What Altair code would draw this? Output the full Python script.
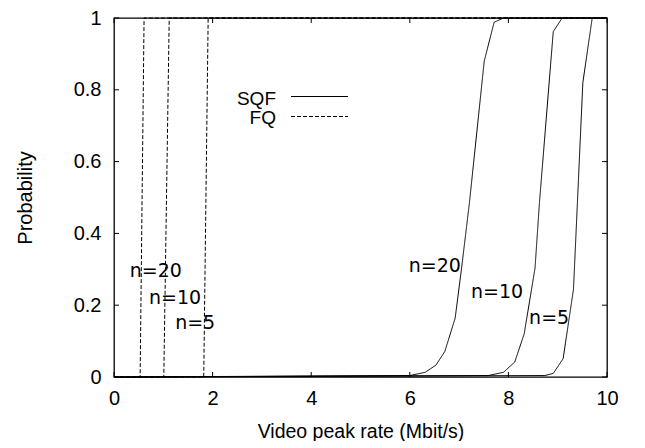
import altair as alt
import pandas as pd

# SQF curves (x = video peak rate, y = probability)
sqf20_x = [0.0, 6.00, 6.31, 6.53, 6.71, 6.92, 7.05, 7.21, 7.51, 7.71, 7.90, 10.0]
sqf20_y = [0.0, 0.004, 0.013, 0.033, 0.071, 0.164, 0.303, 0.486, 0.88, 0.988, 1.0, 1.0]
sqf10_x = [0.0, 7.59, 7.90, 8.13, 8.32, 8.54, 8.63, 8.91, 9.09, 10.0]
sqf10_y = [0.0, 0.004, 0.013, 0.042, 0.12, 0.303, 0.486, 0.962, 1.0, 1.0]
sqf5_x = [0.0, 8.74, 8.91, 9.11, 9.32, 9.40, 9.51, 9.70, 10.0]
sqf5_y = [0.0, 0.004, 0.01, 0.051, 0.244, 0.486, 0.82, 1.0, 1.0]

# FQ curves
fq20_x = [0.0, 0.53, 0.61, 10.0]
fq20_y = [0.0, 0.0, 1.0, 1.0]
fq10_x = [0.0, 1.01, 1.12, 10.0]
fq10_y = [0.0, 0.0, 1.0, 1.0]
fq5_x = [0.0, 1.82, 1.91, 10.0]
fq5_y = [0.0, 0.0, 1.0, 1.0]

# in-plot labels
label_text = ["n=20", "n=10", "n=5", "n=20", "n=10", "n=5"]
label_x = [5.98, 7.24, 8.42, 0.32, 0.71, 1.24]
label_y = [0.308, 0.237, 0.164, 0.294, 0.221, 0.150]

x_ticks = [0, 2, 4, 6, 8, 10]
y_ticks = [0, 0.2, 0.4, 0.6, 0.8, 1]
legend_names = ["SQF", "FQ"]

W, H = 493, 359

rows = []
for scheme, n, xs, ys in [
    ("SQF", 20, sqf20_x, sqf20_y), ("SQF", 10, sqf10_x, sqf10_y), ("SQF", 5, sqf5_x, sqf5_y),
    ("FQ", 20, fq20_x, fq20_y), ("FQ", 10, fq10_x, fq10_y), ("FQ", 5, fq5_x, fq5_y),
]:
    for i, (xv, yv) in enumerate(zip(xs, ys)):
        rows.append({"scheme": scheme, "series": f"{scheme}{n}", "x": xv, "y": yv, "order": i})
df = pd.DataFrame(rows)
labels_df = pd.DataFrame({"text": label_text, "x": label_x, "y": label_y})
xt_df = pd.DataFrame({"v": x_ticks})
yt_df = pd.DataFrame({"v": y_ticks})

xscale = alt.Scale(domain=[0, 10], nice=False, zero=False)
yscale = alt.Scale(domain=[0, 1], nice=False, zero=False)

FONT = "Liberation Sans"

lines = alt.Chart(df).mark_line(color="black", strokeWidth=1).encode(
    x=alt.X("x:Q", scale=xscale,
            axis=alt.Axis(values=x_ticks, title="Video peak rate (Mbit/s)", grid=False,
                          ticks=False, tickSize=0, domain=False, labelPadding=11,
                          labelFlush=False, labelOverlap=False,
                          labelFont=FONT, labelFontSize=20, labelColor="black",
                          titleFont=FONT, titleFontSize=19.5, titleFontWeight="normal",
                          titleColor="black", titleBaseline="middle", titleY=54)),
    y=alt.Y("y:Q", scale=yscale,
            axis=alt.Axis(values=y_ticks, format="~g", title="Probability", grid=False,
                          ticks=False, tickSize=0, domain=False, labelPadding=13,
                          labelFlush=False, labelOverlap=False,
                          labelFont=FONT, labelFontSize=20, labelColor="black",
                          titleFont=FONT, titleFontSize=20, titleFontWeight="normal",
                          titleColor="black", titleBaseline="middle", titleX=-89)),
    detail="series:N",
    order="order:Q",
    strokeDash=alt.StrokeDash("scheme:N", scale=alt.Scale(domain=["SQF", "FQ"], range=[[1, 0], [4, 2]]),
                              legend=None),
)

texts = alt.Chart(labels_df).mark_text(align="left", baseline="middle", font="DejaVu Sans",
                                       fontSize=19, color="black").encode(
    x=alt.X("x:Q", scale=xscale), y=alt.Y("y:Q", scale=yscale), text="text:N")

TL = 5
xt_bottom = alt.Chart(xt_df).mark_rule(color="black", strokeWidth=1).encode(
    x=alt.X("v:Q", scale=xscale), y=alt.value(H), y2=alt.value(H - TL))
xt_top = alt.Chart(xt_df).mark_rule(color="black", strokeWidth=1).encode(
    x=alt.X("v:Q", scale=xscale), y=alt.value(0), y2=alt.value(TL))
yt_left = alt.Chart(yt_df).mark_rule(color="black", strokeWidth=1).encode(
    y=alt.Y("v:Q", scale=yscale), x=alt.value(0), x2=alt.value(TL))
yt_right = alt.Chart(yt_df).mark_rule(color="black", strokeWidth=1).encode(
    y=alt.Y("v:Q", scale=yscale), x=alt.value(W), x2=alt.value(W - TL))

# legend (gnuplot style: label then sample)
leg_sqf_text = alt.Chart(pd.DataFrame({"t": [legend_names[0]]})).mark_text(
    align="right", baseline="middle", font=FONT, fontSize=19, color="black").encode(
    text="t:N", x=alt.value(162), y=alt.value(80.5))
leg_fq_text = alt.Chart(pd.DataFrame({"t": [legend_names[1]]})).mark_text(
    align="right", baseline="middle", font=FONT, fontSize=19, color="black").encode(
    text="t:N", x=alt.value(162), y=alt.value(99.5))
leg_sqf_line = alt.Chart(pd.DataFrame({"t": [legend_names[0]]})).mark_rule(
    color="black", strokeWidth=1).encode(x=alt.value(177), x2=alt.value(234), y=alt.value(78.5))
leg_fq_line = alt.Chart(pd.DataFrame({"t": [legend_names[1]]})).mark_rule(
    color="black", strokeWidth=1, strokeDash=[4, 2]).encode(x=alt.value(177), x2=alt.value(234), y=alt.value(98.5))

chart = alt.layer(
    lines, texts, xt_bottom, xt_top, yt_left, yt_right,
    leg_sqf_text, leg_fq_text, leg_sqf_line, leg_fq_line,
).properties(
    width=W, height=H,
    autosize=alt.AutoSizeParams(type="none"),
    padding={"left": 106, "top": 10, "right": 20, "bottom": 64},
    background="white",
).configure_view(stroke="black", strokeWidth=1.3)

chart.save("out.html", embed_options={"renderer": "svg", "actions": False})
